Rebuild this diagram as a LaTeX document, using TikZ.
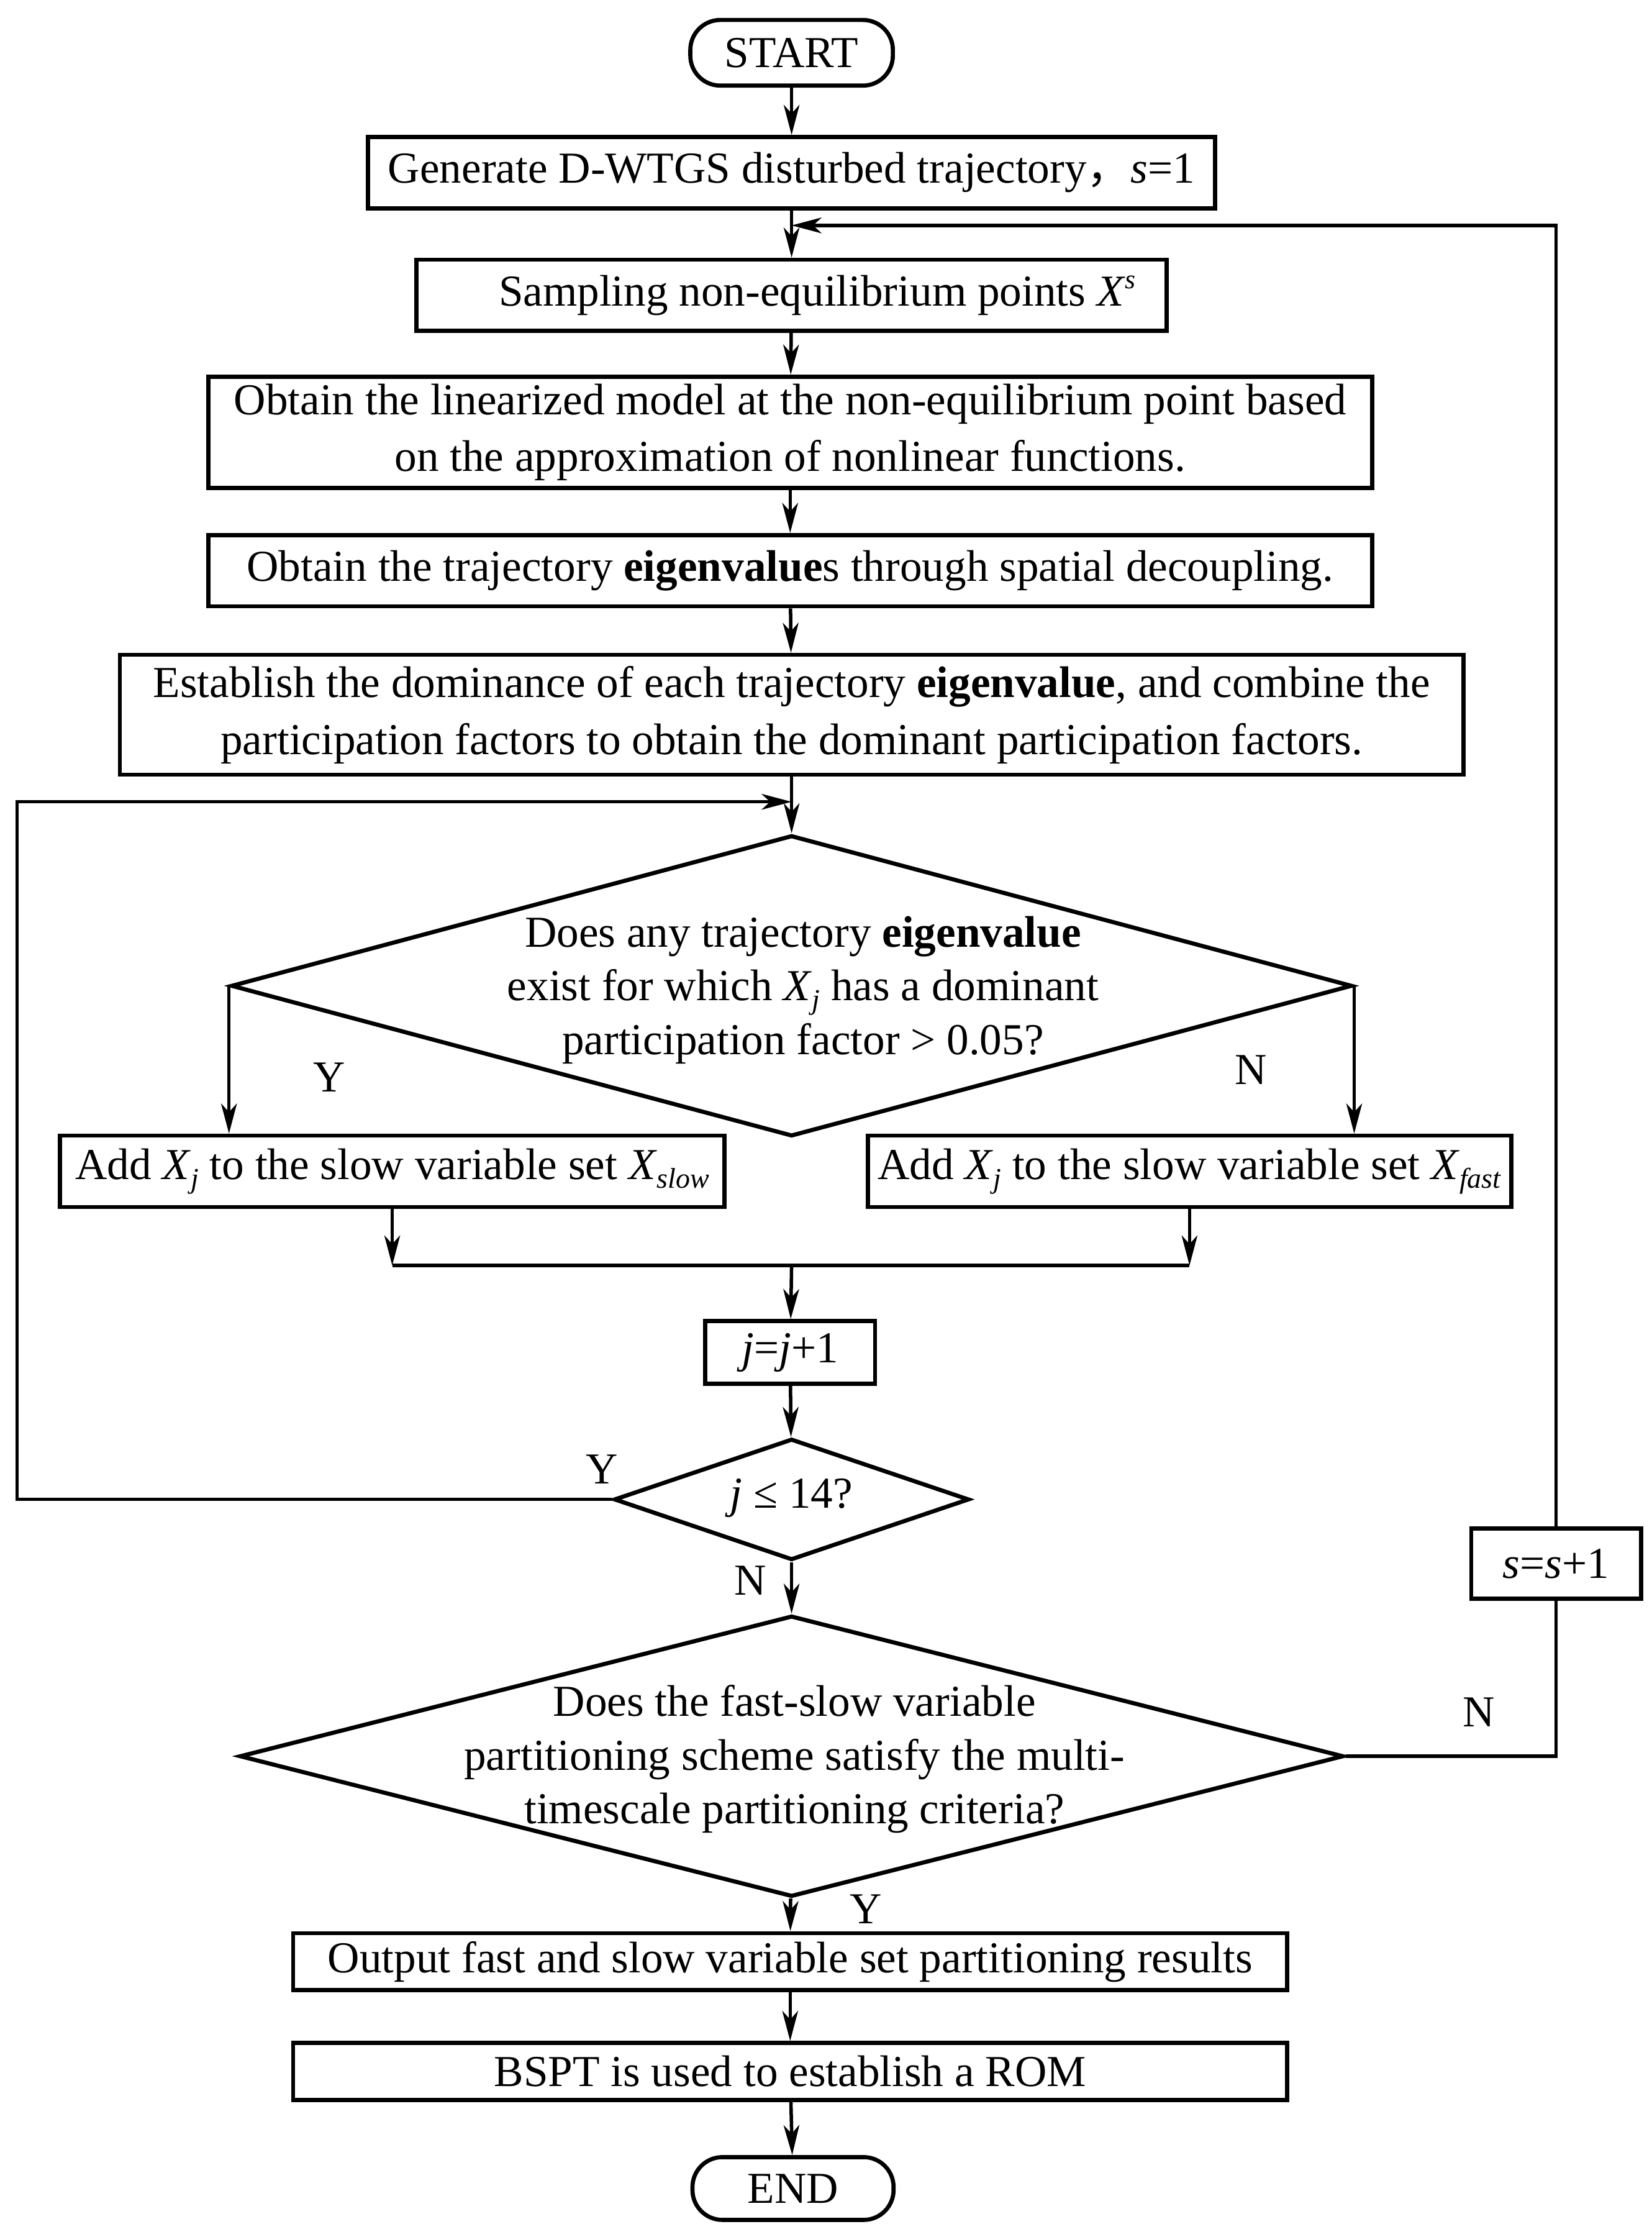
\documentclass[tikz,border=0pt]{standalone}
\usepackage{fontspec}
\setmainfont{Liberation Serif}
\newfontfamily\cjk{Noto Sans CJK SC}
\usetikzlibrary{arrows.meta,shapes.geometric,calc}
\newcommand{\lowidx}[1]{\raisebox{-6pt}{\fontsize{20}{20}\selectfont\textit{#1}}}
\newcommand{\highidx}[1]{\raisebox{12pt}{\fontsize{19}{19}\selectfont\textit{#1}}}

\begin{document}
\begin{tikzpicture}[x=1pt,y=-1pt,>={Stealth[length=21pt,width=11pt,inset=6pt]},line join=miter,font=\fontsize{31}{40}\selectfont]
\useasboundingbox[fill=white] (0,0) rectangle (1158,1568);
\tikzset{box/.style={draw,line width=2.9pt,inner sep=0pt,align=center},term/.style={box,rounded corners=21pt,minimum width=142pt,minimum height=46pt},decision/.style={draw,diamond,line width=2.9pt,inner sep=0pt},flow/.style={draw,line width=2.4pt,->},wire/.style={draw,line width=2.4pt},tag/.style={inner sep=0pt,align=center,font=\fontsize{31}{37.5}\selectfont}}
% main column
\node[term] (start) at (555,37) {START};
\node[box,minimum width=594pt,minimum height=50pt] (gen) at (555,121) {Generate D-WTGS disturbed trajectory{\cjk ，}\textit{s}=1};
\node[box,minimum width=526pt,minimum height=50pt] (samp) at (555,207) {\hspace*{36pt}Sampling non-equilibrium points \textit{X}\highidx{s}};
\node[box,minimum width=816pt,minimum height=78pt] (lin) at (554,303) {Obtain the linearized model at the non-equilibrium point based\\on the approximation of nonlinear functions.};
\node[box,minimum width=816pt,minimum height=50pt] (eig) at (554,400) {Obtain the trajectory \textbf{eigenvalue}s through spatial decoupling.};
\node[box,minimum width=942pt,minimum height=84pt] (dom) at (555,501) {Establish the dominance of each trajectory \textbf{eigenvalue}, and combine the\\participation factors to obtain the dominant participation factors.};
% first decision
\node[decision,minimum width=786pt,minimum height=211pt] (q1) at (555,691) {};
\node[tag] (q1txt) at (563,694) {Does any trajectory \textbf{eigenvalue}\\exist for which \textit{X}\lowidx{j} has a dominant\\participation factor > 0.05?};
\node[box,minimum width=466pt,minimum height=50pt] (slow) at (275,821) {Add \textit{X}\lowidx{j} to the slow variable set \textit{X}\lowidx{slow}};
\node[box,minimum width=451pt,minimum height=50pt] (fast) at (834,821) {Add \textit{X}\lowidx{j} to the slow variable set \textit{X}\lowidx{fast}};
\node[box,minimum width=119pt,minimum height=44pt] (jinc) at (554,948) {\textit{j}=\textit{j}+1};
% loop tests
\node[decision,minimum width=249pt,minimum height=85pt] (q2) at (555,1051) {};
\node[tag] (q2txt) at (555,1050) {\textit{j} ≤ 14?};
\node[decision,minimum width=774pt,minimum height=197pt] (q3) at (555,1231) {};
\node[tag] (q3txt) at (557,1233) {Does the fast-slow variable\\partitioning scheme satisfy the multi-\\timescale partitioning criteria?};
\node[box,minimum width=119pt,minimum height=49pt] (inc) at (1091,1096) {\textit{s}=\textit{s}+1};
\node[box,minimum width=697pt,minimum height=40pt] (out) at (554,1375) {Output fast and slow variable set partitioning results};
\node[box,minimum width=697pt,minimum height=40pt] (rom) at (554,1452) {BSPT is used to establish a ROM};
\node[term,minimum width=141pt,minimum height=44pt] (end) at (556,1534) {END};
% branch labels
\node[tag] (y1) at (231,755) {Y}; \node[tag] (n1) at (877,750) {N};
\node[tag] (y2) at (422,1030) {Y}; \node[tag] (n2) at (526,1108) {N};
\node[tag] (n3) at (1037,1200) {N}; \node[tag] (y3) at (607,1338) {Y};
% joints
\coordinate (fb) at (555,158); \coordinate (lp) at (555,562); \coordinate (lc) at (12,1051); \coordinate (mg) at (555,887);
% connectors
\draw[flow] (start) -- (gen); \draw[flow] (gen) -- (samp); \draw[flow] (samp) -- (lin); \draw[flow] (lin) -- (eig); \draw[flow] (eig) -- (dom); \draw[flow] (dom) -- (q1);
\draw[flow] (q1.west) -- (q1.west |- slow.north); \draw[flow] (q1.east) -- (q1.east |- fast.north);
\draw[flow] (slow) -- (slow |- mg); \draw[flow] (fast) -- (fast |- mg); \draw[wire] (slow |- mg) -- (fast |- mg); \draw[flow] (mg) -- (jinc);
\draw[flow] (jinc) -- (q2); \draw[flow] (q2) -- (q3); \draw[flow] (q3) -- (out); \draw[flow] (out) -- (rom); \draw[flow] (rom) -- (end);
\draw[flow] (q2.west) -- (lc) |- (lp);
\draw[wire] (q3.east) -| (inc); \draw[flow] (inc) |- (fb);
\end{tikzpicture}
\end{document}
